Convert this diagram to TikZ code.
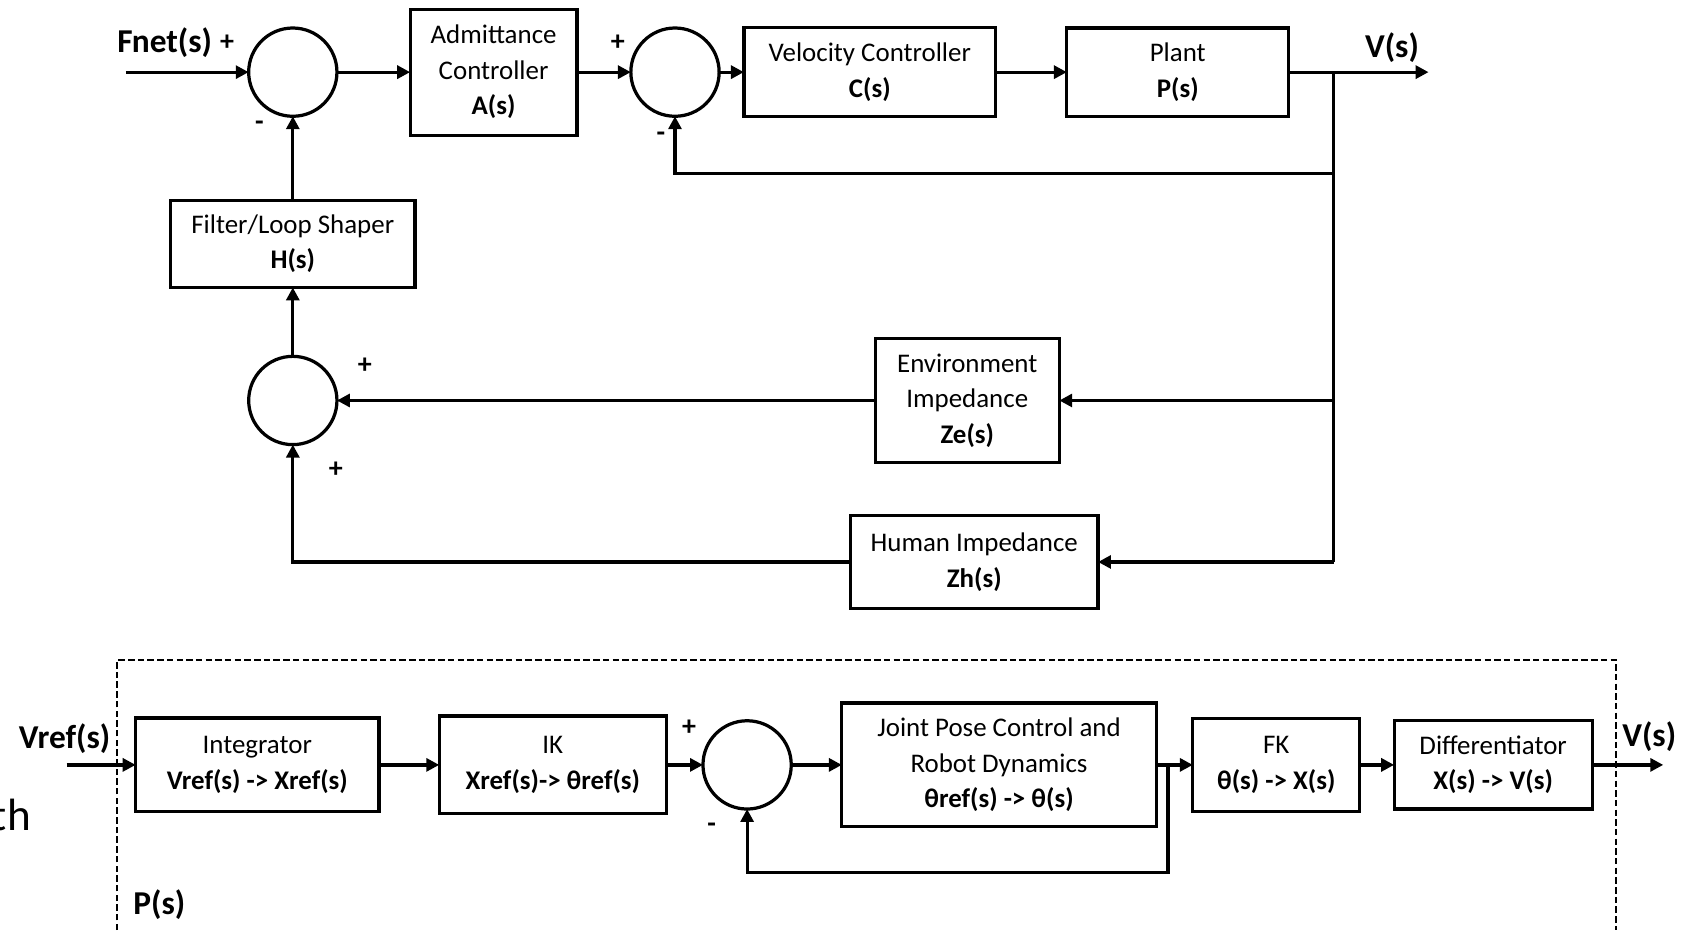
\documentclass[tikz,border=0pt]{standalone}
\usepackage{fontspec}
\setmainfont{Carlito}
\usetikzlibrary{arrows.meta,positioning}

\begin{document}
\begin{tikzpicture}[x=1pt,y=1pt,font=\fontsize{12.5}{16.5}\selectfont,>={Triangle[length=6pt,width=6pt]},
 box/.style={draw,line width=1.5pt,align=center,inner sep=2pt,outer sep=0pt},
 sum/.style={draw,circle,line width=1.5pt,minimum size=41pt,inner sep=0pt,outer sep=0pt},
 flow/.style={->,line width=1.5pt},
 wire/.style={line width=1.5pt},
 sig/.style={font=\fontsize{15.5}{18}\selectfont\bfseries},
 sgn/.style={font=\fontsize{13}{16}\selectfont\bfseries}]
\useasboundingbox (0,0) rectangle (784,-432);

% outer loop
\node[sum] (sumA) at (136,-33.5) {};
\node[box,minimum width=77.5pt,minimum height=58.5pt,right=34pt of sumA] (adm) {Admittance\\Controller\\\textbf{A(s)}};
\node[sum,right=25pt of adm] (sumB) {};
\node[box,minimum width=117pt,minimum height=41.5pt,right=11.5pt of sumB] (vel) {Velocity Controller\\\textbf{C(s)}};
\node[box,minimum width=103pt,minimum height=41pt,right=33pt of vel] (plant) {Plant\\\textbf{P(s)}};
\coordinate[left=57pt of sumA] (fin);
\coordinate[right=21pt of plant] (brA);
\coordinate[right=65pt of plant] (vout);
\coordinate[below=47pt of brA] (fbB);
\node[sig] (fnet) at (76.5,-20) {Fnet(s)};
\node[sig] (vlab) at (646.5,-22) {V(s)};
\draw[flow] (fin) -- (sumA);
\draw[flow] (sumA) -- (adm);
\draw[flow] (adm) -- (sumB);
\draw[flow] (sumB) -- (vel);
\draw[flow] (vel) -- (plant);
\draw[flow] (plant) -- (vout);
\draw[flow] (fbB) -| (sumB);

\node[box,minimum width=113.5pt,minimum height=40.5pt,below=39pt of sumA] (filt) {Filter/Loop Shaper\\\textbf{H(s)}};
\node[sum,below=32pt of filt] (sumC) {};
\node[box,minimum width=85.5pt,minimum height=57.5pt,right=250pt of sumC] (env) {Environment\\Impedance\\\textbf{Ze(s)}};
\node[box,minimum width=115pt,minimum height=43pt] (hum) at (452.5,-261) {Human Impedance\\\textbf{Zh(s)}};
\draw[flow] (sumC) -- (filt);
\draw[flow] (filt) -- (sumA);
\draw[wire] (brA) -- (brA |- hum.east);
\draw[flow] (brA |- env.east) -- (env.east);
\draw[flow] (brA |- hum.east) -- (hum.east);
\draw[flow] (env) -- (sumC);
\draw[flow] (hum) -| (sumC);

% signs
\node[sgn] (pA) at (105.5,-20) {+};
\node[sgn] (mA) at (120.5,-58.5) {-};
\node[sgn] (pB) at (287,-20) {+};
\node[sgn] (mB) at (307,-63.5) {-};
\node[sgn] (pC) at (169.5,-170) {+};
\node[sgn] (qC) at (156,-218) {+};

% plant detail
\draw[dashed,dash pattern=on 3pt off 1.5pt,line width=0.9pt] (54.5,-432) |- (750.5,-306.5) -- (750.5,-432);
\node[box,minimum width=113pt,minimum height=43.5pt] (integ) at (119.5,-355.25) {Integrator\\\textbf{Vref(s) -> Xref(s)}};
\node[box,minimum width=105.5pt,minimum height=45.5pt,right=28pt of integ] (ik) {IK\\\textbf{Xref(s)-> θref(s)}};
\node[sum,right=17pt of ik] (sumD) {};
\node[box,minimum width=146pt,minimum height=57.5pt,right=23.5pt of sumD] (joint) {Joint Pose Control and\\Robot Dynamics\\\textbf{θref(s) -> θ(s)}};
\node[box,minimum width=77.5pt,minimum height=43pt,right=17pt of joint] (fk) {FK\\\textbf{θ(s) -> X(s)}};
\node[box,minimum width=92pt,minimum height=41pt,right=16pt of fk] (diff) {Differentiator\\\textbf{X(s) -> V(s)}};
\coordinate[left=32pt of integ] (vin);
\coordinate[right=33pt of diff] (vout2);
\coordinate[right=5.5pt of joint] (brD);
\coordinate[below=50pt of brD] (fbD);
\node[sig] (vref) at (30,-343) {Vref(s)};
\node[sig] (vlab2) at (766,-342) {V(s)};
\node[sig] (plab) at (74,-420) {P(s)};
\node[anchor=east,inner sep=0pt,font=\fontsize{21}{25}\selectfont] (cut) at (14.5,-378.5) {th};
\draw[flow] (vin) -- (integ);
\draw[flow] (integ) -- (ik);
\draw[flow] (ik) -- (sumD);
\draw[flow] (sumD) -- (joint);
\draw[flow] (joint) -- (fk);
\draw[flow] (fk) -- (diff);
\draw[flow] (diff) -- (vout2);
\draw[flow] (brD) -- (fbD) -| (sumD);
\node[sgn] (pD) at (320,-338) {+};
\node[sgn] (mD) at (330.5,-384.5) {-};
\end{tikzpicture}
\end{document}
